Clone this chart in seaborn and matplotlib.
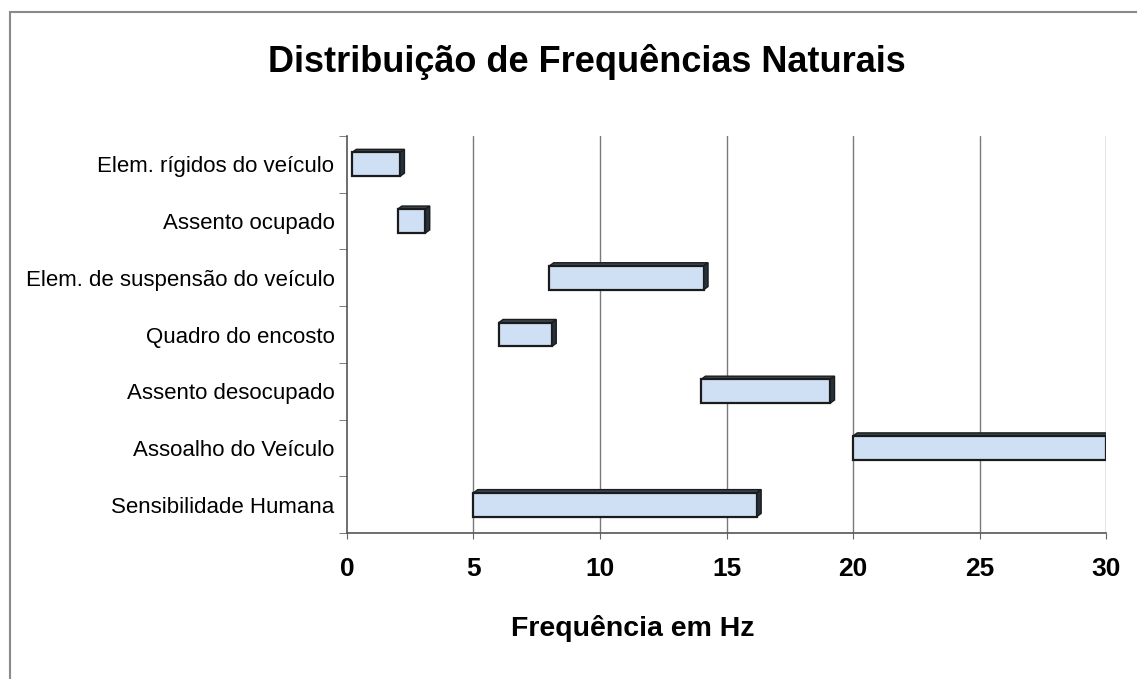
import numpy as np
import pandas as pd
import matplotlib
matplotlib.use("Agg")
import matplotlib.pyplot as plt
from matplotlib.patches import Polygon, Rectangle
import seaborn as sns

# data
categories = ['Elem. rígidos do veículo', 'Assento ocupado', 'Elem. de suspensão do veículo',
              'Quadro do encosto', 'Assento desocupado', 'Assoalho do Veículo', 'Sensibilidade Humana']
freq_min = [0.2, 2.0, 8.0, 6.0, 14.0, 20.0, 5.0]
freq_max = [2.1, 3.1, 14.1, 8.1, 19.1, 30.0, 16.2]
x_ticks = [0, 5, 10, 15, 20, 25, 30]

df = pd.DataFrame({'cat': categories, 'start': freq_min, 'end': freq_max})
df['span'] = df['end'] - df['start']

sns.set_style('white')
plt.rcParams['font.family'] = ['Liberation Sans', 'DejaVu Sans']
plt.rcParams['text.color'] = 'black'
plt.rcParams['xtick.color'] = 'black'
plt.rcParams['ytick.color'] = 'black'

fig = plt.figure(figsize=(11.37, 6.79), dpi=100)
ax = fig.add_axes([347 / 1137, 1 - 533 / 679, 759 / 1137, 397 / 679])

face = '#cfe0f4'
sns.barplot(data=df, x='span', y='cat', orient='h', color=face, saturation=1,
            width=0.42, edgecolor='#1b1b1b', linewidth=1.6, ax=ax, zorder=3)

# shift bars to their start frequency and add a small 3d side/top
dx, dy = 0.17, 0.055
for patch, s in zip(ax.patches, df['start']):
    patch.set_x(s)
    x0, y0 = patch.get_x(), patch.get_y()
    w, h = patch.get_width(), patch.get_height()
    top = Polygon([(x0, y0), (x0 + dx, y0 - dy), (x0 + w + dx, y0 - dy), (x0 + w, y0)],
                  closed=True, facecolor='#3a4650', edgecolor='#1b1b1b', lw=1.0, zorder=2)
    side = Polygon([(x0 + w, y0), (x0 + w + dx, y0 - dy), (x0 + w + dx, y0 + h - dy), (x0 + w, y0 + h)],
                   closed=True, facecolor='#26323c', edgecolor='#1b1b1b', lw=1.0, zorder=4)
    ax.add_patch(top)
    ax.add_patch(side)

ax.set_xlim(0, 30)
ax.set_ylim(len(categories) - 0.5, -0.5)
ax.set_xticks(x_ticks)
ax.set_xticklabels([str(t) for t in x_ticks], fontsize=19, fontweight='bold')
ax.set_yticks(range(len(categories)))
ax.set_yticklabels(categories, fontsize=16)
ax.set_yticks(np.arange(-0.5, len(categories)), minor=True)
ax.tick_params(axis='y', which='major', length=0, pad=9)
ax.tick_params(axis='y', which='minor', length=6, color='#666666', direction='out', left=True)
ax.tick_params(axis='x', length=4, color='#666666', direction='out', bottom=True, pad=13)
ax.set_xlabel('')
ax.set_ylabel('')

for v in x_ticks[1:]:
    ax.axvline(v, color='#7a7a7a', lw=1.0, zorder=1)

for side_name in ['top', 'right']:
    ax.spines[side_name].set_visible(False)
for side_name in ['left', 'bottom']:
    ax.spines[side_name].set_color('#555555')
    ax.spines[side_name].set_linewidth(1.2)

fig.text(587 / 1137, 1 - 62 / 679, 'Distribuição de Frequências Naturais',
         ha='center', va='center', fontsize=26, fontweight='bold')
fig.text(633 / 1137, 1 - 628 / 679, 'Frequência em Hz',
         ha='center', va='center', fontsize=20.5, fontweight='bold')

# border of the chart area
fig.add_artist(Rectangle((10 / 1137, -0.1), 1.2, 1 - 12 / 679 + 0.1, transform=fig.transFigure,
                         fill=False, edgecolor='#8a8a8a', lw=1.5))

fig.savefig('out.png', dpi=100)
